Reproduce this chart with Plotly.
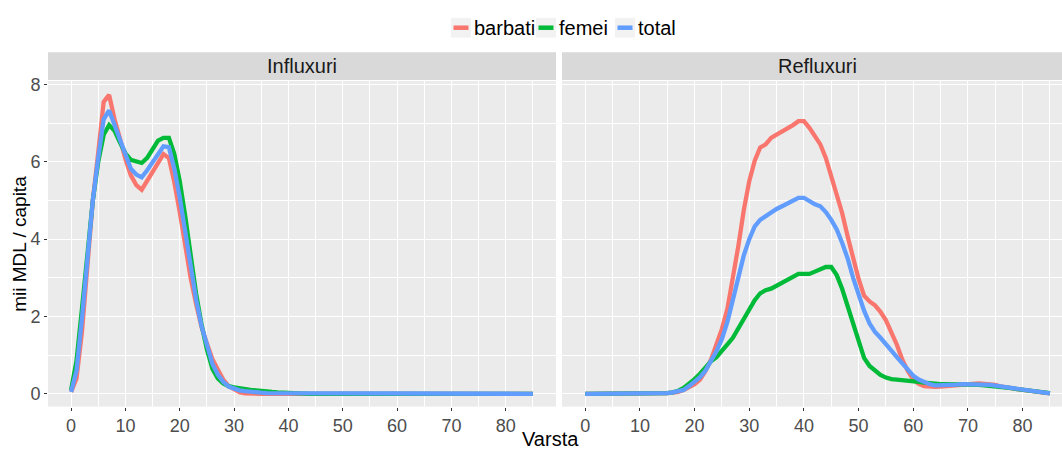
import plotly.graph_objects as go

ages = list(range(0, 86))
series_names = ["barbati", "femei", "total"]
series_colors = ["#F8766D", "#00BA38", "#619CFF"]
panel_titles = ["Influxuri", "Refluxuri"]
x_title = "Varsta"
y_title = "mii MDL / capita"
x_ticks = [0, 10, 20, 30, 40, 50, 60, 70, 80]
y_ticks = [0, 2, 4, 6, 8]

influx_barbati = [0.05, 0.4, 1.6, 3.3, 5.0, 6.25, 7.55, 7.73, 7.1, 6.6,
                  6.07, 5.65, 5.4, 5.28, 5.5, 5.72, 5.97, 6.2, 6.1, 5.47,
                  4.7, 3.86, 3.0, 2.33, 1.73, 1.3, 0.9, 0.63, 0.37, 0.2,
                  0.12, 0.04, 0.01, 0.0, 0.0, 0.0, 0.0, 0.0, 0.0, 0.0,
                  0.0, 0.0, 0.0, 0.0, 0.0, 0.0, 0.0, 0.0, 0.0, 0.0,
                  0.0, 0.0, 0.0, 0.0, 0.0, 0.0, 0.0, 0.0, 0.0, 0.0,
                  0.0, 0.0, 0.0, 0.0, 0.0, 0.0, 0.0, 0.0, 0.0, 0.0,
                  0.0, 0.0, 0.0, 0.0, 0.0, 0.0, 0.0, 0.0, 0.0, 0.0,
                  0.0, 0.0, 0.0, 0.0, 0.0, 0.0]
influx_femei = [0.1, 0.85, 2.2, 3.6, 5.0, 6.0, 6.7, 6.95, 6.8, 6.5,
                6.22, 6.05, 6.0, 5.97, 6.1, 6.35, 6.55, 6.62, 6.62, 6.2,
                5.5, 4.6, 3.6, 2.6, 1.8, 1.15, 0.65, 0.4, 0.27, 0.2,
                0.17, 0.14, 0.12, 0.1, 0.09, 0.07, 0.06, 0.05, 0.04, 0.03,
                0.02, 0.01, 0.01, 0.0, 0.0, 0.0, 0.0, 0.0, 0.0, 0.0,
                0.0, 0.0, 0.0, 0.0, 0.0, 0.0, 0.0, 0.0, 0.0, 0.0,
                0.0, 0.0, 0.0, 0.0, 0.0, 0.0, 0.0, 0.0, 0.0, 0.0,
                0.0, 0.0, 0.0, 0.0, 0.0, 0.0, 0.0, 0.0, 0.0, 0.0,
                0.0, 0.0, 0.0, 0.0, 0.0, 0.0]
influx_total = [0.05, 0.6, 1.95, 3.45, 5.0, 6.1, 7.1, 7.33, 6.95, 6.55,
                6.12, 5.82, 5.67, 5.6, 5.78, 6.0, 6.22, 6.4, 6.38, 5.82,
                5.08, 4.2, 3.3, 2.45, 1.76, 1.22, 0.78, 0.5, 0.31, 0.19,
                0.13, 0.09, 0.07, 0.05, 0.04, 0.03, 0.02, 0.02, 0.01, 0.01,
                0.01, 0.0, 0.0, 0.0, 0.0, 0.0, 0.0, 0.0, 0.0, 0.0,
                0.0, 0.0, 0.0, 0.0, 0.0, 0.0, 0.0, 0.0, 0.0, 0.0,
                0.0, 0.0, 0.0, 0.0, 0.0, 0.0, 0.0, 0.0, 0.0, 0.0,
                0.0, 0.0, 0.0, 0.0, 0.0, 0.0, 0.0, 0.0, 0.0, 0.0,
                0.0, 0.0, 0.0, 0.0, 0.0, 0.0]

reflux_barbati = [0.0, 0.0, 0.0, 0.01, 0.01, 0.01, 0.01, 0.01, 0.01, 0.01,
                  0.01, 0.01, 0.01, 0.01, 0.01, 0.02, 0.03, 0.05, 0.1, 0.16,
                  0.25, 0.37, 0.59, 0.88, 1.27, 1.68, 2.2, 2.97, 3.82, 4.75,
                  5.5, 6.03, 6.37, 6.45, 6.62, 6.7, 6.78, 6.85, 6.95, 7.05,
                  7.05, 6.88, 6.67, 6.45, 6.1, 5.6, 5.18, 4.67, 4.07, 3.48,
                  2.97, 2.54, 2.39, 2.29, 2.12, 1.9, 1.6, 1.27, 0.88, 0.59,
                  0.37, 0.26, 0.2, 0.18, 0.18, 0.19, 0.2, 0.22, 0.23, 0.25,
                  0.26, 0.27, 0.27, 0.26, 0.25, 0.23, 0.19, 0.16, 0.14, 0.12,
                  0.1, 0.08, 0.06, 0.05, 0.03, 0.01]
reflux_femei = [0.0, 0.0, 0.0, 0.02, 0.02, 0.02, 0.02, 0.02, 0.02, 0.02,
                0.02, 0.02, 0.02, 0.02, 0.02, 0.02, 0.04, 0.08, 0.15, 0.25,
                0.38, 0.52, 0.7, 0.84, 0.95, 1.1, 1.28, 1.45, 1.7, 1.95,
                2.2, 2.42, 2.6, 2.68, 2.72, 2.8, 2.88, 2.95, 3.02, 3.1,
                3.1, 3.1, 3.16, 3.22, 3.28, 3.28, 3.07, 2.71, 2.25, 1.78,
                1.3, 0.93, 0.72, 0.6, 0.49, 0.42, 0.38, 0.37, 0.36, 0.35,
                0.33, 0.31, 0.29, 0.27, 0.26, 0.25, 0.25, 0.25, 0.25, 0.25,
                0.24, 0.24, 0.23, 0.22, 0.21, 0.2, 0.18, 0.17, 0.15, 0.12,
                0.1, 0.08, 0.06, 0.04, 0.03, 0.02]
reflux_total = [0.0, 0.0, 0.0, 0.02, 0.02, 0.02, 0.02, 0.02, 0.02, 0.02,
                0.02, 0.02, 0.02, 0.02, 0.02, 0.02, 0.04, 0.06, 0.1, 0.2,
                0.3, 0.43, 0.6, 0.85, 1.1, 1.42, 1.86, 2.43, 3.03, 3.58,
                4.0, 4.33, 4.5, 4.6, 4.7, 4.78, 4.85, 4.92, 4.98, 5.07,
                5.07, 4.97, 4.9, 4.85, 4.7, 4.5, 4.25, 3.9, 3.5, 3.0,
                2.55, 2.15, 1.82, 1.6, 1.45, 1.3, 1.12, 0.95, 0.78, 0.6,
                0.47, 0.37, 0.3, 0.25, 0.22, 0.22, 0.22, 0.23, 0.24, 0.25,
                0.25, 0.25, 0.25, 0.24, 0.23, 0.21, 0.19, 0.17, 0.15, 0.12,
                0.1, 0.08, 0.06, 0.04, 0.03, 0.01]

panels = [
    [influx_barbati, influx_femei, influx_total],
    [reflux_barbati, reflux_femei, reflux_total],
]

W, H = 1062, 451
FONT = "Liberation Sans, Arial, sans-serif"
TICK_COLOR = "#4D4D4D"
TICK_SIZE = 18
TEXT_SIZE = 20


def px_x(p):
    return p / W


def px_y(p):
    return (H - p) / H


fig = go.Figure()
axis_pairs = [("x", "y"), ("x2", "y2")]
for pi, series in enumerate(panels):
    xa, ya = axis_pairs[pi]
    for name, color, vals in zip(series_names, series_colors, series):
        fig.add_trace(go.Scatter(
            x=ages, y=vals, mode="lines", name=name,
            line=dict(color=color, width=4.3),
            xaxis=xa, yaxis=ya,
            showlegend=False, hoverinfo="skip",
        ))

minor_x = dict(tickvals=[5, 15, 25, 35, 45, 55, 65, 75, 85], showgrid=True,
               gridcolor="white", gridwidth=0.6, ticks="")
minor_y = dict(tickvals=[1, 3, 5, 7], showgrid=True, gridcolor="white",
               gridwidth=0.6, ticks="")

common_x = dict(
    tickmode="array", tickvals=x_ticks, ticktext=[str(t) for t in x_ticks],
    showgrid=True, gridcolor="white", gridwidth=1.2, minor=minor_x,
    ticks="outside", ticklen=3, tickcolor="#333333", tickwidth=1,
    tickfont=dict(family=FONT, size=TICK_SIZE, color=TICK_COLOR),
    zeroline=False, showline=False, fixedrange=True,
)
y_dom = [px_y(406), px_y(76)]
y_rng = [-0.33, 8.09]

fig.update_layout(
    width=W, height=H,
    margin=dict(l=0, r=0, t=0, b=0),
    paper_bgcolor="white", plot_bgcolor="#EBEBEB",
    showlegend=False,
    xaxis=dict(domain=[px_x(48), px_x(556)], range=[-4.25, 89.25], anchor="y", **common_x),
    xaxis2=dict(domain=[px_x(562), 1.0], range=[-4.25, (1062 - 585) / 5.47], anchor="y2", **common_x),
    yaxis=dict(
        domain=y_dom, range=y_rng, anchor="x",
        tickmode="array", tickvals=y_ticks, ticktext=[str(t) for t in y_ticks],
        showgrid=True, gridcolor="white", gridwidth=1.2, minor=minor_y,
        ticks="outside", ticklen=3, tickcolor="#333333", tickwidth=1,
        tickfont=dict(family=FONT, size=TICK_SIZE, color=TICK_COLOR),
        zeroline=False, showline=False, fixedrange=True,
    ),
    yaxis2=dict(
        domain=y_dom, range=y_rng, anchor="x2",
        tickmode="array", tickvals=y_ticks, showticklabels=False,
        showgrid=True, gridcolor="white", gridwidth=1.2, minor=minor_y,
        ticks="", zeroline=False, showline=False, fixedrange=True,
    ),
)

shapes = []
annotations = []
# facet strips
for pi, (xa, _) in enumerate(axis_pairs):
    shapes.append(dict(type="rect", xref=f"{xa} domain", yref="paper",
                       x0=0, x1=1, y0=px_y(75), y1=px_y(47),
                       fillcolor="#D9D9D9", line=dict(width=0), layer="below"))
    annotations.append(dict(text=panel_titles[pi], xref=xa, yref="paper",
                            x=42.5, y=px_y(61), showarrow=False,
                            xanchor="center", yanchor="middle",
                            font=dict(family=FONT, size=TEXT_SIZE, color="#1A1A1A")))

# axis titles
annotations.append(dict(text=x_title, xref="paper", yref="paper",
                        x=px_x(550), y=0, showarrow=False,
                        xanchor="center", yanchor="bottom", borderpad=0,
                        font=dict(family=FONT, size=TEXT_SIZE, color="black")))
annotations.append(dict(text=y_title, xref="paper", yref="paper",
                        x=px_x(20), y=px_y(241), showarrow=False, textangle=-90,
                        xanchor="center", yanchor="middle",
                        font=dict(family=FONT, size=19, color="black")))

# legend (drawn manually to mimic ggplot keys)
key_left = [451, 536, 615]
for name, color, kx in zip(series_names, series_colors, key_left):
    shapes.append(dict(type="rect", xref="paper", yref="paper",
                       x0=px_x(kx), x1=px_x(kx + 20), y0=px_y(32), y1=px_y(12),
                       fillcolor="#F2F2F2", line=dict(width=0)))
    shapes.append(dict(type="line", xref="paper", yref="paper",
                       x0=px_x(kx + 2.5), x1=px_x(kx + 17.5), y0=px_y(22), y1=px_y(22),
                       line=dict(color=color, width=4.5)))
    annotations.append(dict(text=name, xref="paper", yref="paper",
                            x=px_x(kx + 21), y=px_y(22), showarrow=False,
                            xanchor="left", yanchor="middle",
                            font=dict(family=FONT, size=TEXT_SIZE, color="black")))

fig.update_layout(shapes=shapes, annotations=annotations)
fig.write_html("out.html")
